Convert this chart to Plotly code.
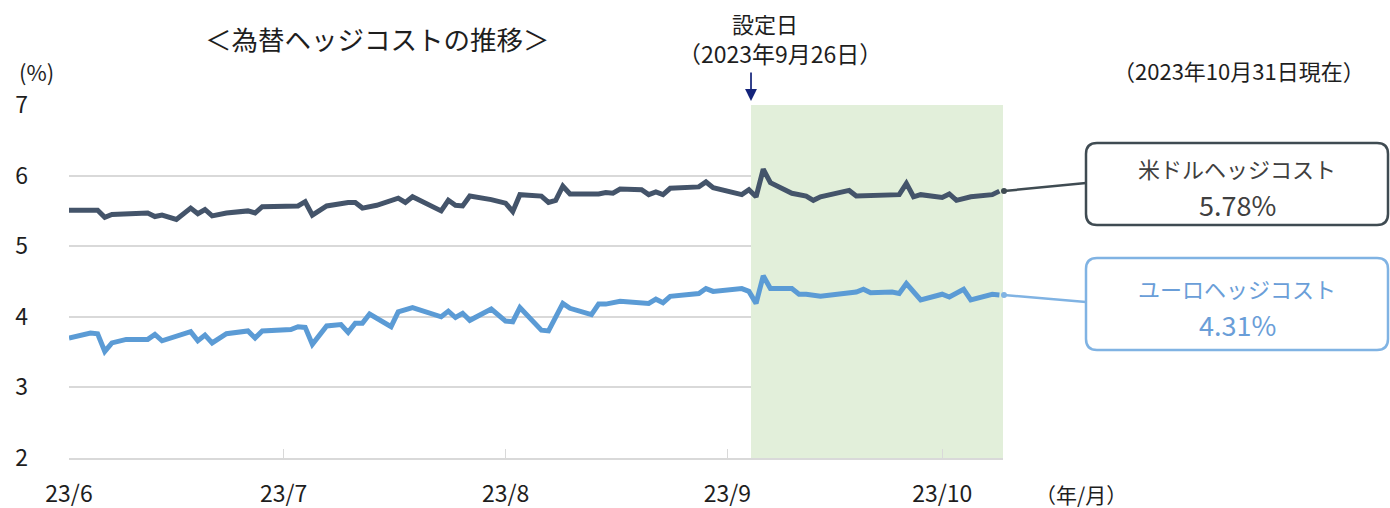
import plotly.graph_objects as go

# ---------------- data ----------------
usd_dates = ["2023-06-01","2023-06-05","2023-06-06","2023-06-07","2023-06-12","2023-06-13","2023-06-14",
             "2023-06-16","2023-06-18","2023-06-19","2023-06-20","2023-06-21","2023-06-23","2023-06-26",
             "2023-06-27","2023-06-28","2023-07-03","2023-07-04","2023-07-05","2023-07-07","2023-07-10",
             "2023-07-11","2023-07-12","2023-07-14","2023-07-17","2023-07-18","2023-07-19","2023-07-23",
             "2023-07-24","2023-07-25","2023-07-26","2023-07-27","2023-07-30","2023-08-01","2023-08-02",
             "2023-08-03","2023-08-06","2023-08-07","2023-08-08","2023-08-09","2023-08-10","2023-08-14",
             "2023-08-15","2023-08-16","2023-08-17","2023-08-20","2023-08-21","2023-08-22","2023-08-23",
             "2023-08-24","2023-08-28","2023-08-29","2023-08-30","2023-09-03","2023-09-04","2023-09-05",
             "2023-09-06","2023-09-07","2023-09-10","2023-09-12","2023-09-13","2023-09-14","2023-09-18",
             "2023-09-19","2023-09-25","2023-09-26","2023-09-27","2023-09-28","2023-10-01","2023-10-02",
             "2023-10-03","2023-10-05","2023-10-08","2023-10-09"]
usd_values = [5.51,5.51,5.41,5.45,5.47,5.42,5.44,
              5.38,5.54,5.46,5.52,5.43,5.47,5.50,
              5.47,5.56,5.57,5.63,5.44,5.57,5.62,
              5.62,5.54,5.58,5.68,5.62,5.70,5.50,
              5.65,5.58,5.57,5.71,5.66,5.61,5.49,
              5.73,5.71,5.62,5.65,5.85,5.74,5.74,
              5.76,5.75,5.81,5.80,5.73,5.77,5.73,
              5.82,5.84,5.91,5.83,5.73,5.80,5.70,
              6.09,5.90,5.75,5.71,5.65,5.70,5.79,
              5.71,5.73,5.89,5.70,5.73,5.69,5.74,
              5.65,5.70,5.73,5.78]

eur_dates = ["2023-06-01","2023-06-04","2023-06-05","2023-06-06","2023-06-07","2023-06-09","2023-06-12",
             "2023-06-13","2023-06-14","2023-06-18","2023-06-19","2023-06-20","2023-06-21","2023-06-23",
             "2023-06-26","2023-06-27","2023-06-28","2023-07-02","2023-07-03","2023-07-04","2023-07-05",
             "2023-07-07","2023-07-09","2023-07-10","2023-07-11","2023-07-12","2023-07-13","2023-07-16",
             "2023-07-17","2023-07-19","2023-07-23","2023-07-24","2023-07-25","2023-07-26","2023-07-27",
             "2023-07-30","2023-08-01","2023-08-02","2023-08-03","2023-08-06","2023-08-07","2023-08-09",
             "2023-08-10","2023-08-13","2023-08-14","2023-08-15","2023-08-17","2023-08-21","2023-08-22",
             "2023-08-23","2023-08-24","2023-08-28","2023-08-29","2023-08-30","2023-09-03","2023-09-04",
             "2023-09-05","2023-09-06","2023-09-07","2023-09-10","2023-09-11","2023-09-12","2023-09-14",
             "2023-09-18","2023-09-19","2023-09-20","2023-09-21","2023-09-24","2023-09-25","2023-09-26",
             "2023-09-28","2023-10-01","2023-10-02","2023-10-04","2023-10-05","2023-10-08","2023-10-09"]
eur_values = [3.70,3.77,3.76,3.51,3.63,3.68,3.68,
              3.75,3.66,3.79,3.66,3.74,3.63,3.76,
              3.80,3.70,3.80,3.82,3.86,3.85,3.61,
              3.87,3.89,3.78,3.91,3.91,4.04,3.86,
              4.07,4.13,4.00,4.08,3.99,4.05,3.95,
              4.11,3.94,3.93,4.13,3.81,3.80,4.19,
              4.12,4.03,4.18,4.18,4.22,4.19,4.25,
              4.20,4.29,4.33,4.40,4.36,4.40,4.36,
              4.19,4.58,4.40,4.40,4.32,4.32,4.29,
              4.35,4.35,4.39,4.34,4.35,4.33,4.47,
              4.24,4.32,4.28,4.39,4.24,4.32,4.31]

tick_dates = ["2023-06-01","2023-07-01","2023-08-01","2023-09-01","2023-10-01"]
tick_labels = ["23/6","23/7","23/8","23/9","23/10"]
x_range = ["2023-06-01","2023-10-09 12:00"]
shade_start = "2023-09-04 07:00"
shade_end = "2023-10-09 12:00"

series_names = ["米ドルヘッジコスト","ユーロヘッジコスト"]

# ---------------- layout helpers ----------------
W, H = 1390, 508
L, R, T, B = 69, 1003, 105, 458
FONT = "Noto Sans CJK JP"
USD_C = "#44546A"
EUR_C = "#5B9BD5"
TXT = "#1E1E1E"

def px(x):
    return (x - L) / (R - L)

def py(y):
    return (B - y) / (B - T)

def rounded_box(x0, y0, x1, y1, r):
    rx, ry = r / (R - L), r / (B - T)
    a, b, c, d = px(x0), px(x1), py(y0), py(y1)  # c top, d bottom
    return (f"M {a+rx},{c} L {b-rx},{c} Q {b},{c} {b},{c-ry} "
            f"L {b},{d+ry} Q {b},{d} {b-rx},{d} L {a+rx},{d} "
            f"Q {a},{d} {a},{d+ry} L {a},{c-ry} Q {a},{c} {a+rx},{c} Z")

fig = go.Figure()
fig.add_trace(go.Scatter(x=usd_dates, y=usd_values, mode="lines", name=series_names[0],
                         line=dict(color=USD_C, width=5), showlegend=False, hoverinfo="skip"))
fig.add_trace(go.Scatter(x=eur_dates, y=eur_values, mode="lines", name=series_names[1],
                         line=dict(color=EUR_C, width=5), showlegend=False, hoverinfo="skip"))

shapes = [
    dict(type="rect", xref="x", yref="y", x0=shade_start, x1=shade_end, y0=2, y1=7,
         fillcolor="#E2EFDA", line=dict(width=0), layer="between"),
    dict(type="path", xref="paper", yref="paper", path=rounded_box(1086, 143, 1388, 225, 11),
         line=dict(color="#3F4B52", width=2.5), fillcolor="white"),
    dict(type="path", xref="paper", yref="paper", path=rounded_box(1086, 258, 1388, 350, 11),
         line=dict(color="#80B3E3", width=2.5), fillcolor="white"),
    dict(type="line", xref="paper", yref="paper", x0=px(1004), y0=py(191), x1=px(1086), y1=py(183),
         line=dict(color="#3F4B52", width=2.5)),
    dict(type="line", xref="paper", yref="paper", x0=px(1004), y0=py(295), x1=px(1086), y1=py(302),
         line=dict(color="#80B3E3", width=2.5)),
    dict(type="circle", xref="paper", yref="paper", x0=px(1001), x1=px(1007), y0=py(188), y1=py(194),
         fillcolor="#3F4B52", line=dict(width=0)),
    dict(type="circle", xref="paper", yref="paper", x0=px(1001), x1=px(1007), y0=py(292), y1=py(298),
         fillcolor="#80B3E3", line=dict(width=0)),
]

ann = [
    dict(text="＜為替ヘッジコストの推移＞", x=px(377), y=py(38), font=dict(size=26.5, color=TXT)),
    dict(text="(%)", x=px(36), y=py(71), font=dict(size=22, color=TXT)),
    dict(text="設定日", x=px(765), y=py(23), font=dict(size=22, color=TXT)),
    dict(text="（2023年9月26日）", x=px(780), y=py(53), font=dict(size=23, color=TXT)),
    dict(text="（2023年10月31日現在）", x=px(1239), y=py(70), font=dict(size=22, color=TXT)),
    dict(text="（年/月）", x=px(1081), y=py(494), font=dict(size=21, color=TXT)),
    dict(text=series_names[0], x=px(1237), y=py(168), font=dict(size=22, color="#404040")),
    dict(text=f"{usd_values[-1]:.2f}%", x=px(1237), y=py(204), font=dict(size=27, color="#404040")),
    dict(text=series_names[1], x=px(1237), y=py(288), font=dict(size=22, color="#6A9ED8")),
    dict(text=f"{eur_values[-1]:.2f}%", x=px(1237), y=py(324), font=dict(size=27, color="#6A9ED8")),
]
annotations = []
for a in ann:
    a.update(xref="paper", yref="paper", showarrow=False, xanchor="center", yanchor="middle")
    annotations.append(a)
annotations.append(dict(xref="x", yref="paper", x=shade_start, y=py(101), ax=0, ay=-30,
                        text="", showarrow=True, arrowhead=2, arrowsize=1.4, arrowwidth=1.7,
                        arrowcolor="#13237A", axref="pixel", ayref="pixel"))

fig.update_layout(
    width=W, height=H,
    margin=dict(l=L, r=W - R, t=T, b=H - B, autoexpand=False),
    paper_bgcolor="white", plot_bgcolor="white",
    font=dict(family=FONT, color=TXT),
    shapes=shapes, annotations=annotations,
    xaxis=dict(type="date", range=x_range, tickvals=tick_dates, ticktext=tick_labels,
               showgrid=False, showline=True, linecolor="#D9D9D9", linewidth=1.5,
               ticks="inside", ticklen=9, tickcolor="#D9D9D9", tickwidth=1.2, automargin=False,
               tickfont=dict(size=23, color=TXT), ticklabelstandoff=15, zeroline=False),
    yaxis=dict(range=[2, 7], dtick=1, showgrid=True, gridcolor="#D9D9D9", gridwidth=1.5,
               showline=False, zeroline=False, ticks="", automargin=False,
               tickfont=dict(size=23, color=TXT), ticklabelstandoff=40),
)

fig.write_html("out.html", config={"displayModeBar": False},
               post_script="document.body.style.margin='0';document.body.style.padding='0';")
